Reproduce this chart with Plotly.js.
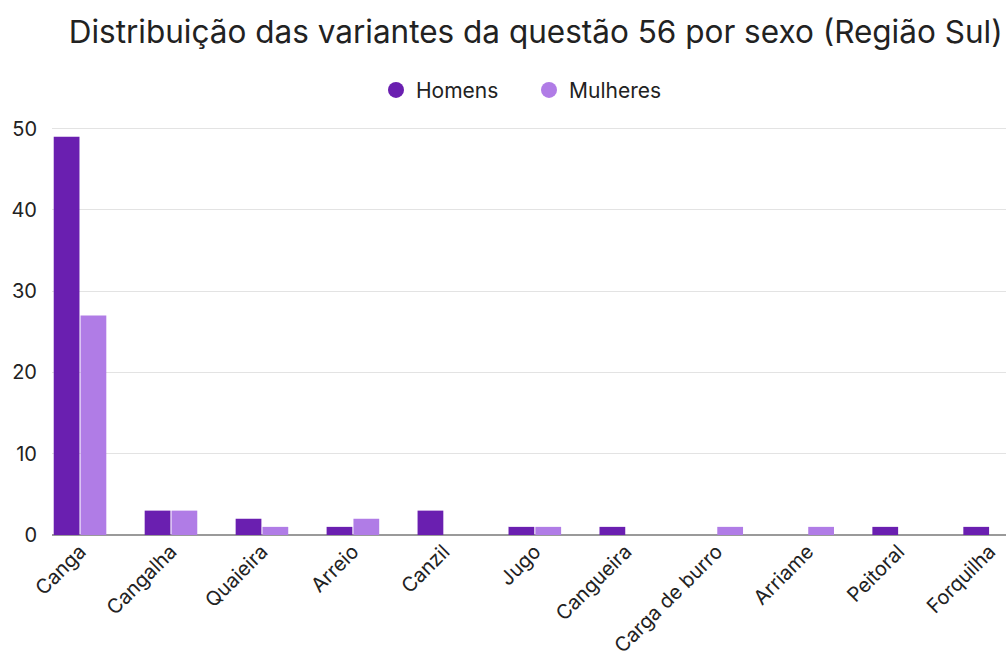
<!DOCTYPE html>
<html><head><meta charset="utf-8">
<script src="https://cdn.plot.ly/plotly-3.0.1.min.js"></script>
<style>body{margin:0;background:#fff}#chart{width:1006px;height:661px}</style>
</head><body><div id="chart"></div>
<script>
const categories = ["Canga","Cangalha","Quaieira","Arreio","Canzil","Jugo","Cangueira","Carga de burro","Arriame","Peitoral","Forquilha"];
const homens = [49,3,2,1,3,1,1,0,0,1,1];
const mulheres = [27,3,1,2,0,1,0,1,1,0,0];
const seriesNames = ["Homens","Mulheres"];
const colors = ["#6a1fb0","#b07ce6"];
const font = "Inter, 'Noto Sans', sans-serif";

const traces = [
  {type:"bar", name:seriesNames[0], x:categories, y:homens, marker:{color:colors[0]}, showlegend:false, hoverinfo:"x+y"},
  {type:"bar", name:seriesNames[1], x:categories, y:mulheres, marker:{color:colors[1]}, showlegend:false, hoverinfo:"x+y"},
  {type:"scatter", mode:"markers", name:seriesNames[0], x:[null], y:[null], marker:{color:colors[0], size:20, symbol:"circle"}},
  {type:"scatter", mode:"markers", name:seriesNames[1], x:[null], y:[null], marker:{color:colors[1], size:20, symbol:"circle"}}
];
const layout = {
  width:1006, height:661,
  margin:{l:52, r:0, t:127, b:126},
  paper_bgcolor:"#fff", plot_bgcolor:"#fff",
  font:{family:font, color:"#222", size:20},
  title:{text:"Distribuição das variantes da questão 56 por sexo (Região Sul)", font:{size:31.5, color:"#222", family:font}, x:0.507, xref:"paper", xanchor:"center", y:0.952, yref:"container", yanchor:"middle"},
  barmode:"group", bargap:0.41, bargroupgap:0.04,
  showlegend:true,
  legend:{orientation:"h", x:0.5, xanchor:"center", y:1.09, yanchor:"middle", font:{size:21, color:"#222"}, itemsizing:"trace", traceorder:"normal", entrywidth:108},
  xaxis:{type:"category", range:[-0.308,10.18], tickangle:-45, tickfont:{size:20, color:"#222"}, showgrid:false, showline:false, zeroline:false, ticks:""},
  yaxis:{range:[0,50.2], tickvals:[0,10,20,30,40,50], tickfont:{size:20, color:"#222"}, gridcolor:"#e3e3e3", gridwidth:1, zeroline:true, zerolinecolor:"#9a9a9a", zerolinewidth:1.5, showline:false, ticks:"", ticklabelstandoff:14}
};
Plotly.newPlot("chart", traces, layout, {displayModeBar:false, staticPlot:true});
</script></body></html>
